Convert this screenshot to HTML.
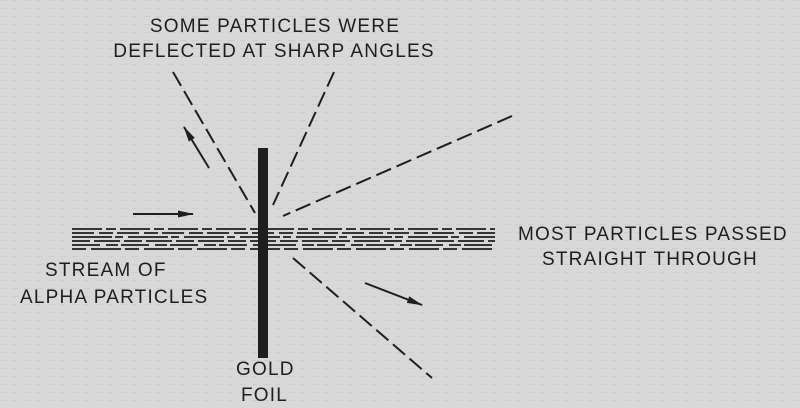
<!DOCTYPE html>
<html><head><meta charset="utf-8"><style>
body{margin:0;background:#d8d8d8}
svg{display:block}
text{font-family:"Liberation Sans",sans-serif;font-size:19px;fill:#1e1e1e;letter-spacing:1.2px}
</style></head><body>
<svg width="800" height="408" viewBox="0 0 800 408">
<defs>
<pattern id="tex" width="12" height="8" patternUnits="userSpaceOnUse"><rect width="12" height="8" fill="#d8d8d8"/><rect x="0" y="0" width="6" height="1" fill="#cdcdcd"/></pattern>
<marker id="ah" markerUnits="userSpaceOnUse" markerWidth="16" markerHeight="8" refX="15" refY="4" orient="auto"><path d="M0,0.5 L16,4 L0,7.5 Z" fill="#1e1e1e"/></marker>
</defs>
<rect width="800" height="408" fill="url(#tex)"/>
<g>
<text x="275" y="32" text-anchor="middle">SOME PARTICLES WERE</text>
<text x="274" y="57" text-anchor="middle">DEFLECTED AT SHARP ANGLES</text>
</g>
<g stroke="#1e1e1e" stroke-width="2" fill="none" stroke-dasharray="16,6">
<line x1="173" y1="72" x2="255" y2="213"/>
<line x1="334" y1="72" x2="273" y2="205"/>
<line x1="512" y1="116" x2="283" y2="216"/>
<line x1="293" y1="258" x2="432" y2="378"/>
</g>
<g stroke="#1e1e1e" stroke-width="1.8" stroke-dasharray="30,4,10,4">
<line x1="72" y1="229" x2="495" y2="229"/>
<line x1="72" y1="233" x2="495" y2="233" stroke-dasharray="22,5,14,4"/>
<line x1="72" y1="237" x2="495" y2="237" stroke-dasharray="40,3,8,5"/>
<line x1="72" y1="241" x2="495" y2="241" stroke-dasharray="18,4,26,4"/>
<line x1="72" y1="245" x2="495" y2="245" stroke-dasharray="28,6,12,3"/>
<line x1="72" y1="249" x2="495" y2="249" stroke-dasharray="14,5,30,4"/>
</g>
<rect x="258" y="148" width="10" height="210" fill="#1e1e1e"/>
<g stroke="#1e1e1e" stroke-width="2" marker-end="url(#ah)">
<line x1="133" y1="214" x2="193" y2="214"/>
<line x1="209" y1="168" x2="184" y2="127"/>
<line x1="365" y1="283" x2="422" y2="305"/>
</g>
<g>
<text x="45" y="276">STREAM OF</text>
<text x="20" y="303">ALPHA PARTICLES</text>
</g>
<g>
<text x="236" y="375">GOLD</text>
<text x="241" y="401">FOIL</text>
</g>
<g>
<text x="518" y="240">MOST PARTICLES PASSED</text>
<text x="542" y="265">STRAIGHT THROUGH</text>
</g>
</svg>
</body></html>
